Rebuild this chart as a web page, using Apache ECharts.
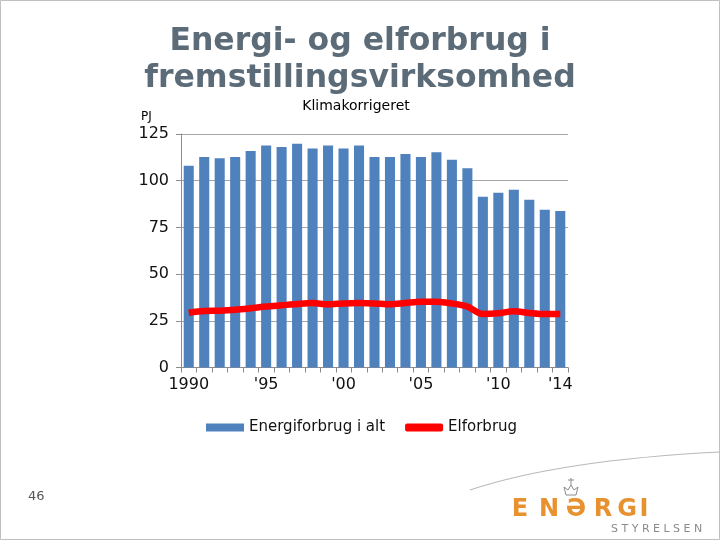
<!DOCTYPE html>
<html>
<head>
<meta charset="utf-8">
<script src="https://cdn.jsdelivr.net/npm/echarts@6/dist/echarts.min.js"></script>
<style>
html,body{margin:0;padding:0;background:#fff;}
#chart{width:720px;height:540px;}
</style>
</head>
<body>
<div id="chart"></div>
<script>
var years = ['1990','1991','1992','1993','1994','1995','1996','1997','1998','1999','2000','2001','2002','2003','2004','2005','2006','2007','2008','2009','2010','2011','2012','2013','2014'];
var tickLabels = {0:'1990',5:"'95",10:"'00",15:"'05",20:"'10",24:"'14"};
var energiforbrug = [108.0,112.7,112.0,112.7,115.9,118.9,118.0,119.8,117.3,118.9,117.3,118.9,112.7,112.7,114.3,112.7,115.2,111.2,106.6,91.4,93.6,95.2,89.8,84.5,83.8];
var elforbrug = [29.3,30.2,30.4,30.9,31.7,32.6,33.3,34.0,34.5,33.8,34.3,34.5,34.3,33.8,34.5,35.2,35.2,34.3,32.6,28.6,29.0,30.1,29.2,28.6,28.6];

var chart = echarts.init(document.getElementById('chart'), null, {renderer:'canvas'});
var FONT = 'DejaVu Sans';
chart.setOption({
  animation:false,
  backgroundColor:'#ffffff',
  grid:{left:181,right:152,top:134,bottom:172.5,containLabel:false},
  legend:{
    data:[{name:'Energiforbrug i alt',icon:'rect'},{name:'Elforbrug',icon:'roundRect'}],
    left:201, top:415, itemWidth:38, itemHeight:8, itemGap:20,
    textStyle:{fontFamily:FONT,fontSize:15,color:'#111'}
  },
  xAxis:{
    type:'category', data:years, boundaryGap:true,
    axisLine:{lineStyle:{color:'#8c8c8c',width:1}},
    axisTick:{show:true,interval:0,length:5,lineStyle:{color:'#8c8c8c'}},
    axisLabel:{interval:0,margin:9,fontFamily:FONT,fontSize:16,color:'#111',
      formatter:function(v,i){return tickLabels[i]!==undefined?tickLabels[i]:'';}}
  },
  yAxis:{
    type:'value', min:0, max:125, interval:25,
    axisLine:{show:true,lineStyle:{color:'#8c8c8c',width:1}},
    axisTick:{show:true,length:5,lineStyle:{color:'#8c8c8c'}},
    splitLine:{lineStyle:{color:'#a6a6a6',width:1}},
    axisLabel:{margin:12,fontFamily:FONT,fontSize:16,color:'#111'}
  },
  series:[
    {name:'Energiforbrug i alt',type:'bar',data:energiforbrug,barCategoryGap:'35%',
     itemStyle:{color:'#4f81bd'}},
    {name:'Elforbrug',type:'line',data:elforbrug,symbol:'none',smooth:0.3,
     lineStyle:{color:'#ff0000',width:6.5},itemStyle:{color:'#ff0000'},z:5}
  ],
  graphic:[
    {type:'rect',shape:{x:0.5,y:0.5,width:719,height:539},style:{fill:'none',stroke:'#c0c0c0',lineWidth:1}},
    {type:'text',left:'center',top:26,style:{text:'Energi- og elforbrug i',fontFamily:FONT,fontWeight:'bold',fontSize:31.5,fill:'#5b6b77'}},
    {type:'text',left:'center',top:63,style:{text:'fremstillingsvirksomhed',fontFamily:FONT,fontWeight:'bold',fontSize:31.5,fill:'#5b6b77'}},
    {type:'text',x:356,y:106,style:{text:'Klimakorrigeret',fontFamily:FONT,fontSize:14,fill:'#000',align:'center',verticalAlign:'middle'}},
    {type:'text',x:141,y:117,style:{text:'PJ',fontFamily:FONT,fontSize:12,fill:'#000',verticalAlign:'middle'}},
    {type:'text',x:28,y:497,style:{text:'46',fontFamily:FONT,fontSize:13,fill:'#555',verticalAlign:'middle'}},
    {type:'bezierCurve',shape:{x1:470,y1:490,x2:720,y2:452,cpx1:560,cpy1:460},style:{stroke:'#b8b8b8',lineWidth:1.2,fill:'none'}},
    {type:'group',children:[
      {type:'text',x:520,y:510,style:{text:'E',fontFamily:FONT,fontWeight:'bold',fontSize:24,fill:'#e8912f',align:'center',verticalAlign:'middle'}},
      {type:'text',x:549,y:510,style:{text:'N',fontFamily:FONT,fontWeight:'bold',fontSize:24,fill:'#e8912f',align:'center',verticalAlign:'middle'}},
      {type:'text',x:576,y:510,style:{text:'Ə',fontFamily:FONT,fontWeight:'bold',fontSize:24,fill:'#e8912f',align:'center',verticalAlign:'middle'}},
      {type:'text',x:603,y:510,style:{text:'R',fontFamily:FONT,fontWeight:'bold',fontSize:24,fill:'#e8912f',align:'center',verticalAlign:'middle'}},
      {type:'text',x:627,y:510,style:{text:'G',fontFamily:FONT,fontWeight:'bold',fontSize:24,fill:'#e8912f',align:'center',verticalAlign:'middle'}},
      {type:'text',x:644,y:510,style:{text:'I',fontFamily:FONT,fontWeight:'bold',fontSize:24,fill:'#e8912f',align:'center',verticalAlign:'middle'}},
      {type:'text',x:611,y:529,style:{text:'S T Y R E L S E N',fontFamily:FONT,fontSize:11,fill:'#8a8a8a',verticalAlign:'middle'}},
      {type:'polyline',shape:{points:[[566,495],[564,487],[568,490],[571,485],[574,490],[578,487],[576,495],[566,495]]},style:{stroke:'#8a8a8a',fill:'none',lineWidth:1}},
      {type:'line',shape:{x1:571,y1:478,x2:571,y2:485},style:{stroke:'#8a8a8a',lineWidth:1}},
      {type:'line',shape:{x1:568,y1:480,x2:574,y2:480},style:{stroke:'#8a8a8a',lineWidth:1}}
    ]}
  ]
});
</script>
</body>
</html>
